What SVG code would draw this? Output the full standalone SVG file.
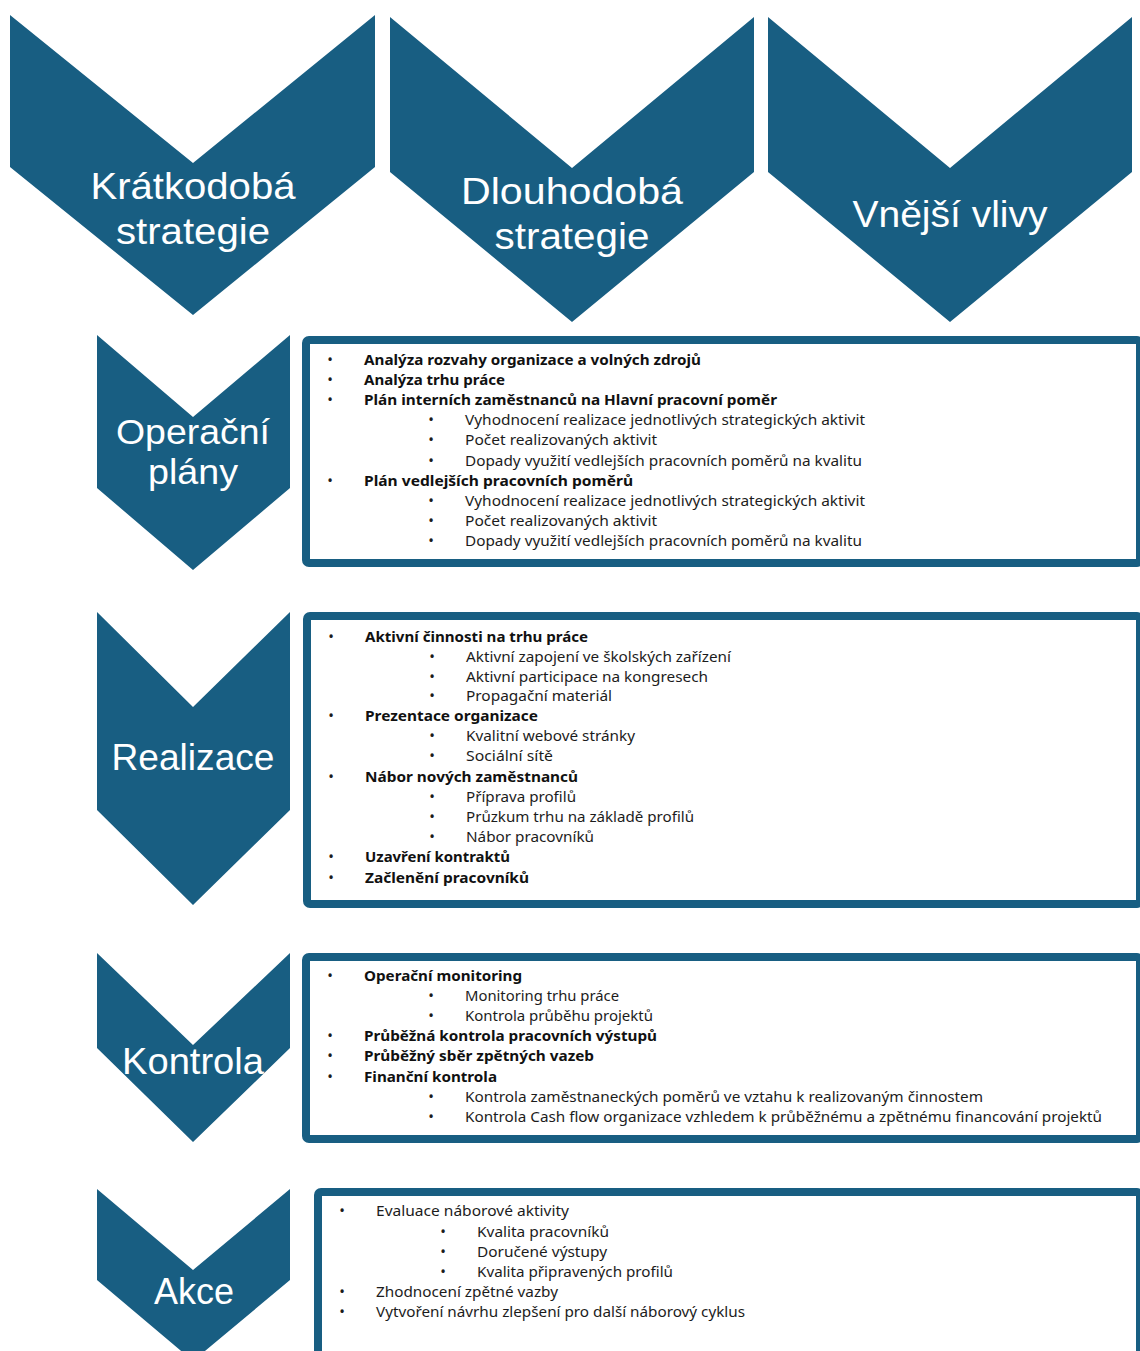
<svg xmlns="http://www.w3.org/2000/svg" width="1140" height="1351" viewBox="0 0 1140 1351">
<style>
.chev{fill:#185e82;}
.lbl{font-family:"Liberation Sans","Arial",sans-serif;font-size:36px;fill:#ffffff;text-anchor:middle;}
.sm{font-size:35px;}
.box{fill:#ffffff;stroke:#185e82;stroke-width:8;}
.t{font-family:"Noto Sans","Open Sans","DejaVu Sans",sans-serif;font-size:15px;fill:#1c1c1c;}
.b{font-weight:bold;fill:#111111;}
.bu{font-family:"Noto Sans","DejaVu Sans",sans-serif;font-size:15px;fill:#1c1c1c;text-anchor:middle;}
</style>
<rect x="0" y="0" width="1140" height="1351" fill="#ffffff"/>
<g id="connectors"></g>

<g id="kratkodoba">
<polygon class="chev" points="10,15 193,163 375,15 375,167 193,315 10,167"/>
<text class="lbl" x="193" y="199" textLength="205" lengthAdjust="spacingAndGlyphs">Krátkodobá</text>
<text class="lbl" x="193" y="244" textLength="154" lengthAdjust="spacingAndGlyphs">strategie</text>
</g>
<g id="dlouhodoba">
<polygon class="chev" points="390,17 572,168 754,17 754,172 572,322 390,172"/>
<text class="lbl" x="572" y="204" textLength="222" lengthAdjust="spacingAndGlyphs">Dlouhodobá</text>
<text class="lbl" x="572" y="249" textLength="155" lengthAdjust="spacingAndGlyphs">strategie</text>
</g>
<g id="vnejsi">
<polygon class="chev" points="768,17 950,168 1132,17 1132,172 950,322 768,172"/>
<text class="lbl" x="950" y="227" textLength="195" lengthAdjust="spacingAndGlyphs">Vnější vlivy</text>
</g>

<g id="operacni">
<polygon class="chev" points="97,335 193,417 290,335 290,488 193,570 97,488"/>
<text class="lbl sm" x="193" y="444" textLength="154" lengthAdjust="spacingAndGlyphs">Operační</text>
<text class="lbl sm" x="193" y="484" textLength="90" lengthAdjust="spacingAndGlyphs">plány</text>
</g>
<g id="operacni-box">
<rect class="box" x="306" y="340" width="834" height="223" rx="3"/>
<text class="bu" x="330" y="365">•</text><text class="t b" x="364" y="365" textLength="337" lengthAdjust="spacingAndGlyphs">Analýza rozvahy organizace a volných zdrojů</text>
<text class="bu" x="330" y="385">•</text><text class="t b" x="364" y="385" textLength="141" lengthAdjust="spacingAndGlyphs">Analýza trhu práce</text>
<text class="bu" x="330" y="405">•</text><text class="t b" x="364" y="405" textLength="413" lengthAdjust="spacingAndGlyphs">Plán interních zaměstnanců na Hlavní pracovní poměr</text>
<text class="bu" x="431" y="425">•</text><text class="t" x="465" y="425" textLength="400" lengthAdjust="spacingAndGlyphs">Vyhodnocení realizace jednotlivých strategických aktivit</text>
<text class="bu" x="431" y="445">•</text><text class="t" x="465" y="445" textLength="192" lengthAdjust="spacingAndGlyphs">Počet realizovaných aktivit</text>
<text class="bu" x="431" y="466">•</text><text class="t" x="465" y="466" textLength="397" lengthAdjust="spacingAndGlyphs">Dopady využití vedlejších pracovních poměrů na kvalitu</text>
<text class="bu" x="330" y="486">•</text><text class="t b" x="364" y="486" textLength="269" lengthAdjust="spacingAndGlyphs">Plán vedlejších pracovních poměrů</text>
<text class="bu" x="431" y="506">•</text><text class="t" x="465" y="506" textLength="400" lengthAdjust="spacingAndGlyphs">Vyhodnocení realizace jednotlivých strategických aktivit</text>
<text class="bu" x="431" y="526">•</text><text class="t" x="465" y="526" textLength="192" lengthAdjust="spacingAndGlyphs">Počet realizovaných aktivit</text>
<text class="bu" x="431" y="546">•</text><text class="t" x="465" y="546" textLength="397" lengthAdjust="spacingAndGlyphs">Dopady využití vedlejších pracovních poměrů na kvalitu</text>
</g>

<g id="realizace">
<polygon class="chev" points="97,612 193,707 290,612 290,810 193,905 97,810"/>
<text class="lbl" x="193" y="770" textLength="163" lengthAdjust="spacingAndGlyphs">Realizace</text>
</g>
<g id="realizace-box">
<rect class="box" x="307" y="616" width="833" height="288" rx="3"/>
<text class="bu" x="331" y="642">•</text><text class="t b" x="365" y="642" textLength="223" lengthAdjust="spacingAndGlyphs">Aktivní činnosti na trhu práce</text>
<text class="bu" x="432" y="662">•</text><text class="t" x="466" y="662" textLength="265" lengthAdjust="spacingAndGlyphs">Aktivní zapojení ve školských zařízení</text>
<text class="bu" x="432" y="682">•</text><text class="t" x="466" y="682" textLength="242" lengthAdjust="spacingAndGlyphs">Aktivní participace na kongresech</text>
<text class="bu" x="432" y="701">•</text><text class="t" x="466" y="701" textLength="146" lengthAdjust="spacingAndGlyphs">Propagační materiál</text>
<text class="bu" x="331" y="721">•</text><text class="t b" x="365" y="721" textLength="173" lengthAdjust="spacingAndGlyphs">Prezentace organizace</text>
<text class="bu" x="432" y="741">•</text><text class="t" x="466" y="741" textLength="169" lengthAdjust="spacingAndGlyphs">Kvalitní webové stránky</text>
<text class="bu" x="432" y="761">•</text><text class="t" x="466" y="761" textLength="87" lengthAdjust="spacingAndGlyphs">Sociální sítě</text>
<text class="bu" x="331" y="782">•</text><text class="t b" x="365" y="782" textLength="213" lengthAdjust="spacingAndGlyphs">Nábor nových zaměstnanců</text>
<text class="bu" x="432" y="802">•</text><text class="t" x="466" y="802" textLength="110" lengthAdjust="spacingAndGlyphs">Příprava profilů</text>
<text class="bu" x="432" y="822">•</text><text class="t" x="466" y="822" textLength="228" lengthAdjust="spacingAndGlyphs">Průzkum trhu na základě profilů</text>
<text class="bu" x="432" y="842">•</text><text class="t" x="466" y="842" textLength="128" lengthAdjust="spacingAndGlyphs">Nábor pracovníků</text>
<text class="bu" x="331" y="862">•</text><text class="t b" x="365" y="862" textLength="145" lengthAdjust="spacingAndGlyphs">Uzavření kontraktů</text>
<text class="bu" x="331" y="883">•</text><text class="t b" x="365" y="883" textLength="164" lengthAdjust="spacingAndGlyphs">Začlenění pracovníků</text>
</g>

<g id="kontrola">
<polygon class="chev" points="97,953 193,1045 290,953 290,1048 193,1142 97,1048"/>
<text class="lbl" x="193" y="1074" textLength="142" lengthAdjust="spacingAndGlyphs">Kontrola</text>
</g>
<g id="kontrola-box">
<rect class="box" x="306" y="957" width="834" height="182" rx="3"/>
<text class="bu" x="330" y="981">•</text><text class="t b" x="364" y="981" textLength="158" lengthAdjust="spacingAndGlyphs">Operační monitoring</text>
<text class="bu" x="431" y="1001">•</text><text class="t" x="465" y="1001" textLength="154" lengthAdjust="spacingAndGlyphs">Monitoring trhu práce</text>
<text class="bu" x="431" y="1021">•</text><text class="t" x="465" y="1021" textLength="188" lengthAdjust="spacingAndGlyphs">Kontrola průběhu projektů</text>
<text class="bu" x="330" y="1041">•</text><text class="t b" x="364" y="1041" textLength="293" lengthAdjust="spacingAndGlyphs">Průběžná kontrola pracovních výstupů</text>
<text class="bu" x="330" y="1061">•</text><text class="t b" x="364" y="1061" textLength="230" lengthAdjust="spacingAndGlyphs">Průběžný sběr zpětných vazeb</text>
<text class="bu" x="330" y="1082">•</text><text class="t b" x="364" y="1082" textLength="133" lengthAdjust="spacingAndGlyphs">Finanční kontrola</text>
<text class="bu" x="431" y="1102">•</text><text class="t" x="465" y="1102" textLength="518" lengthAdjust="spacingAndGlyphs">Kontrola zaměstnaneckých poměrů ve vztahu k realizovaným činnostem</text>
<text class="bu" x="431" y="1122">•</text><text class="t" x="465" y="1122" textLength="637" lengthAdjust="spacingAndGlyphs">Kontrola Cash flow organizace vzhledem k průběžnému a zpětnému financování projektů</text>
</g>

<g id="akce">
<polygon class="chev" points="97,1189 193,1270 290,1189 290,1280 193,1361 97,1280"/>
<text class="lbl" x="194" y="1304" textLength="80" lengthAdjust="spacingAndGlyphs">Akce</text>
</g>
<g id="akce-box">
<rect class="box" x="318" y="1192" width="822" height="200" rx="3"/>
<text class="bu" x="342" y="1216">•</text><text class="t" x="376" y="1216" textLength="193" lengthAdjust="spacingAndGlyphs">Evaluace náborové aktivity</text>
<text class="bu" x="443" y="1237">•</text><text class="t" x="477" y="1237" textLength="132" lengthAdjust="spacingAndGlyphs">Kvalita pracovníků</text>
<text class="bu" x="443" y="1257">•</text><text class="t" x="477" y="1257" textLength="130" lengthAdjust="spacingAndGlyphs">Doručené výstupy</text>
<text class="bu" x="443" y="1277">•</text><text class="t" x="477" y="1277" textLength="196" lengthAdjust="spacingAndGlyphs">Kvalita připravených profilů</text>
<text class="bu" x="342" y="1297">•</text><text class="t" x="376" y="1297" textLength="182" lengthAdjust="spacingAndGlyphs">Zhodnocení zpětné vazby</text>
<text class="bu" x="342" y="1317">•</text><text class="t" x="376" y="1317" textLength="369" lengthAdjust="spacingAndGlyphs">Vytvoření návrhu zlepšení pro další náborový cyklus</text>
</g>
</svg>
